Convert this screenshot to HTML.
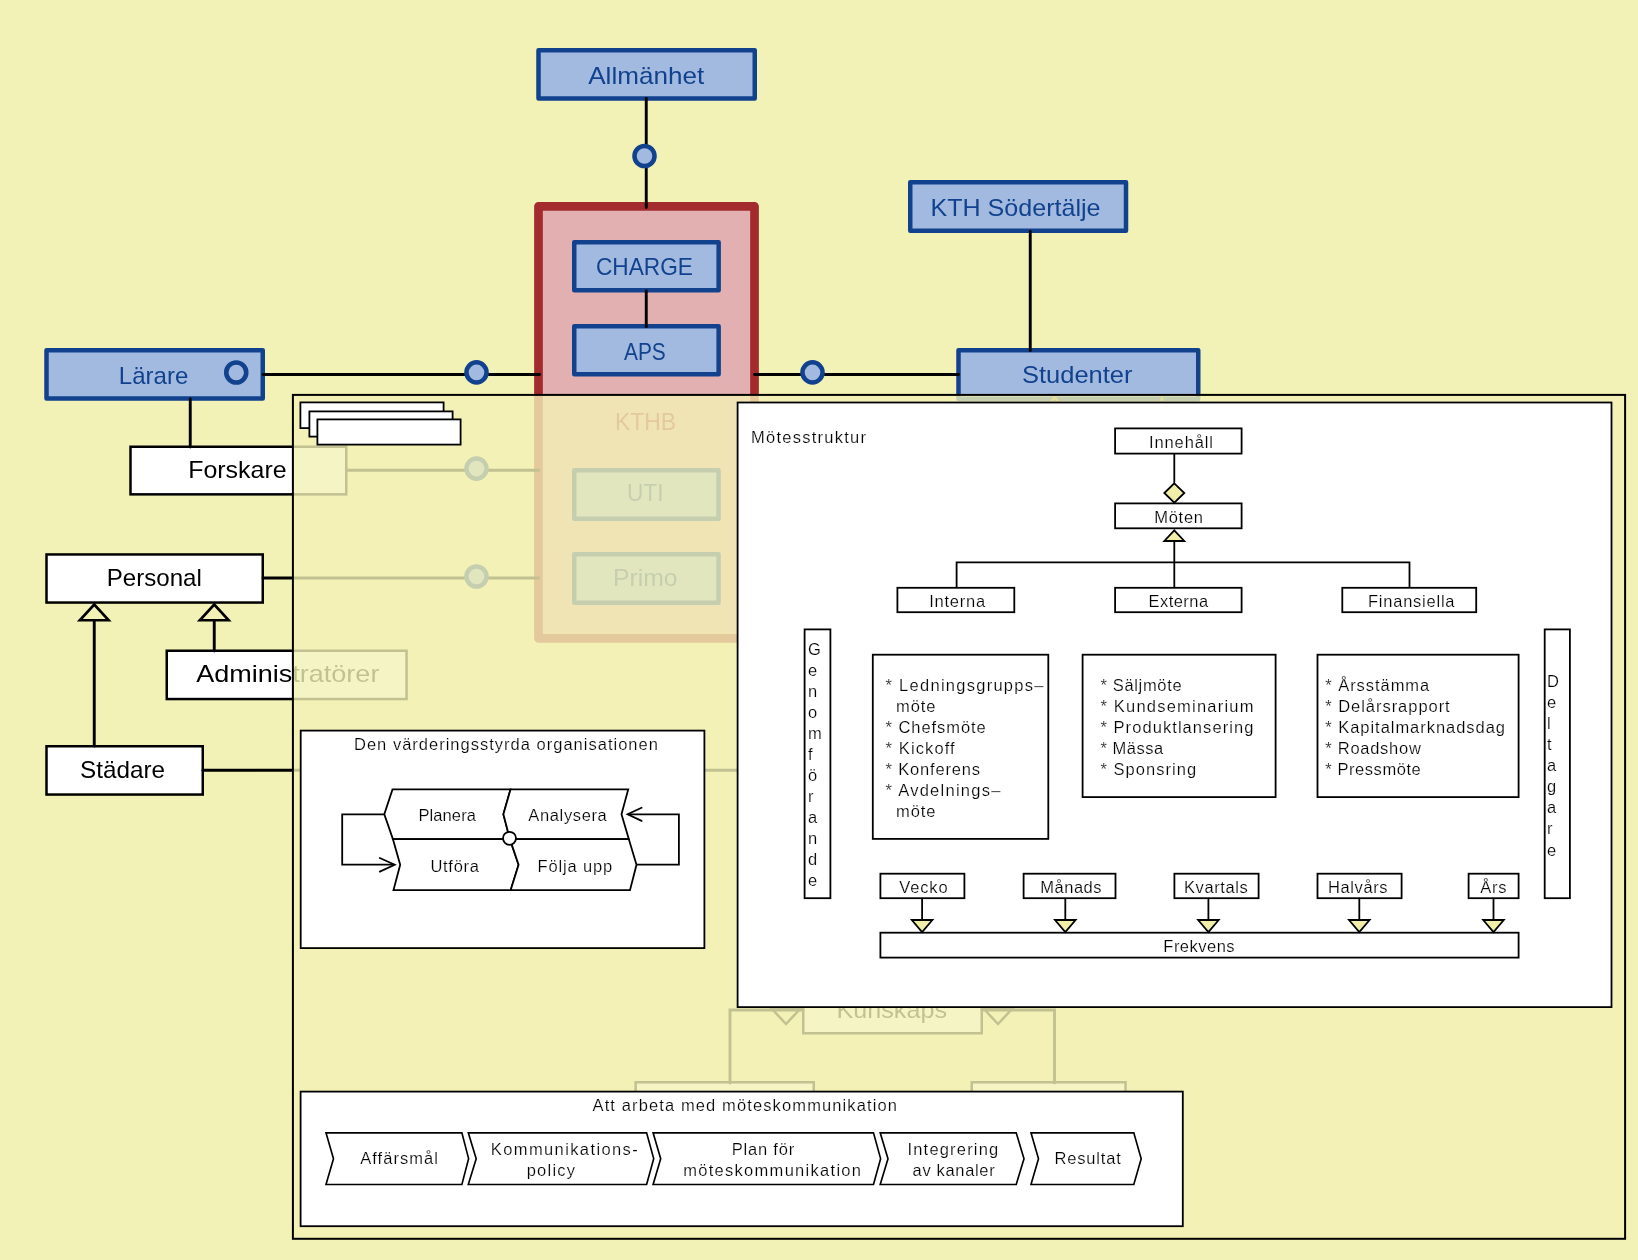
<!DOCTYPE html>
<html><head><meta charset="utf-8"><title>Diagram</title>
<style>
html,body{margin:0;padding:0;background:#f2f1b6;}
body{width:1638px;height:1260px;overflow:hidden;}
svg{display:block;font-family:"Liberation Sans",sans-serif;will-change:transform;}
</style></head><body>
<svg width="1638" height="1260" viewBox="0 0 1638 1260">
<rect x="0" y="0" width="1638" height="1260" fill="#f2f1b6"/>

<g id="base">
<rect x="538.5" y="206.3" width="216" height="432.1" fill="#e3b0b1" stroke="#a32a2d" stroke-width="8.7" stroke-linejoin="round"/>
<rect x="635.65" y="1082.25" width="178.10" height="56.50" fill="#fff" stroke="#000" stroke-width="2.5"/>
<rect x="971.75" y="1082.25" width="153.80" height="56.50" fill="#fff" stroke="#000" stroke-width="2.5"/>
<rect x="803.25" y="986.25" width="178.50" height="47.00" fill="#fff" stroke="#000" stroke-width="2.5"/>
<text x="836.4" y="1018.0" font-size="24" fill="#000" textLength="110.6" lengthAdjust="spacingAndGlyphs" >Kunskaps</text>
<path d="M803.00,1010.00 L730.00,1010.00 L730.00,1083.00" fill="none" stroke="#000" stroke-width="2.9" stroke-linecap="round"/>
<path d="M982.00,1010.00 L1054.50,1010.00 L1054.50,1083.00" fill="none" stroke="#000" stroke-width="2.9" stroke-linecap="round"/>
<polygon points="772.00,1009.00 786.00,1024.00 800.00,1009.00" fill="none" stroke="#000" stroke-width="2.5" stroke-linejoin="miter" />
<polygon points="984.00,1009.00 998.00,1024.00 1012.00,1009.00" fill="none" stroke="#000" stroke-width="2.5" stroke-linejoin="miter" />
<rect x="538.50" y="50.25" width="216.25" height="48.25" fill="#a2bae0" stroke="#12428e" stroke-width="4.5" stroke-linejoin="round"/>
<text x="588.2" y="84.2" font-size="24" fill="#12428e" textLength="116.0" lengthAdjust="spacingAndGlyphs" >Allmänhet</text>
<rect x="574.25" y="242.25" width="144.40" height="48.10" fill="#a2bae0" stroke="#12428e" stroke-width="4.5" stroke-linejoin="round"/>
<text x="596.0" y="275.0" font-size="24" fill="#12428e" textLength="97.0" lengthAdjust="spacingAndGlyphs" >CHARGE</text>
<rect x="574.25" y="326.25" width="144.40" height="48.10" fill="#a2bae0" stroke="#12428e" stroke-width="4.5" stroke-linejoin="round"/>
<text x="624.0" y="360.0" font-size="24" fill="#12428e" textLength="41.8" lengthAdjust="spacingAndGlyphs" >APS</text>
<text x="614.9" y="430.0" font-size="24" fill="#a32a2d" textLength="61.2" lengthAdjust="spacingAndGlyphs" >KTHB</text>
<rect x="574.25" y="470.25" width="144.30" height="48.50" fill="#a2bae0" stroke="#12428e" stroke-width="4.5" stroke-linejoin="round"/>
<text x="627.0" y="501.0" font-size="24" fill="#12428e" textLength="36.5" lengthAdjust="spacingAndGlyphs" >UTI</text>
<rect x="574.25" y="554.25" width="144.30" height="48.50" fill="#a2bae0" stroke="#12428e" stroke-width="4.5" stroke-linejoin="round"/>
<text x="613.0" y="585.7" font-size="24" fill="#12428e" textLength="64.5" lengthAdjust="spacingAndGlyphs" >Primo</text>
<rect x="910.25" y="182.25" width="215.75" height="48.50" fill="#a2bae0" stroke="#12428e" stroke-width="4.5" stroke-linejoin="round"/>
<text x="930.5" y="215.5" font-size="24" fill="#12428e" textLength="170.0" lengthAdjust="spacingAndGlyphs" >KTH Södertälje</text>
<rect x="958.50" y="350.25" width="239.75" height="48.70" fill="#a2bae0" stroke="#12428e" stroke-width="4.5" stroke-linejoin="round"/>
<text x="1022.0" y="383.0" font-size="24" fill="#12428e" textLength="110.5" lengthAdjust="spacingAndGlyphs" >Studenter</text>
<rect x="46.50" y="350.25" width="216.25" height="48.25" fill="#a2bae0" stroke="#12428e" stroke-width="4.5" stroke-linejoin="round"/>
<text x="118.8" y="384.2" font-size="24" fill="#12428e" textLength="69.5" lengthAdjust="spacingAndGlyphs" >Lärare</text>
<circle cx="236.25" cy="372.5" r="10" fill="none" stroke="#12428e" stroke-width="4.6"/>
<rect x="130.50" y="446.75" width="215.75" height="47.60" fill="#fff" stroke="#000" stroke-width="2.5"/>
<text x="188.2" y="477.7" font-size="24" fill="#000" textLength="98.4" lengthAdjust="spacingAndGlyphs" >Forskare</text>
<rect x="46.50" y="554.45" width="216.25" height="48.10" fill="#fff" stroke="#000" stroke-width="2.5"/>
<text x="106.8" y="585.7" font-size="24" fill="#000" textLength="95.0" lengthAdjust="spacingAndGlyphs" >Personal</text>
<rect x="166.75" y="650.75" width="239.80" height="48.30" fill="#fff" stroke="#000" stroke-width="2.5"/>
<text x="196.2" y="682.3" font-size="24" fill="#000" textLength="183.2" lengthAdjust="spacingAndGlyphs" >Administratörer</text>
<rect x="46.50" y="746.25" width="156.25" height="48.30" fill="#fff" stroke="#000" stroke-width="2.5"/>
<text x="80.0" y="777.5" font-size="24" fill="#000" textLength="85.0" lengthAdjust="spacingAndGlyphs" >Städare</text>
<path d="M646.25,98.50 L646.25,207.50" fill="none" stroke="#000" stroke-width="2.9" stroke-linecap="round"/>
<path d="M646.25,291.00 L646.25,326.50" fill="none" stroke="#000" stroke-width="2.9" stroke-linecap="round"/>
<path d="M263.00,374.50 L539.50,374.50" fill="none" stroke="#000" stroke-width="2.9" stroke-linecap="round"/>
<path d="M754.50,374.50 L958.50,374.50" fill="none" stroke="#000" stroke-width="2.9" stroke-linecap="round"/>
<path d="M1030.25,231.50 L1030.25,350.50" fill="none" stroke="#000" stroke-width="2.9" stroke-linecap="round"/>
<path d="M190.25,399.00 L190.25,447.00" fill="none" stroke="#000" stroke-width="2.9" stroke-linecap="round"/>
<path d="M346.50,470.30 L538.50,470.30" fill="none" stroke="#000" stroke-width="2.9" stroke-linecap="round"/>
<path d="M263.00,578.00 L538.50,578.00" fill="none" stroke="#000" stroke-width="2.9" stroke-linecap="round"/>
<path d="M203.00,770.30 L745.00,770.30" fill="none" stroke="#000" stroke-width="2.9" stroke-linecap="round"/>
<path d="M94.25,620.00 L94.25,746.00" fill="none" stroke="#000" stroke-width="2.9" stroke-linecap="round"/>
<path d="M214.25,620.00 L214.25,651.00" fill="none" stroke="#000" stroke-width="2.9" stroke-linecap="round"/>
<circle cx="644.5" cy="156" r="10.05" fill="#a2bae0" stroke="#12428e" stroke-width="4.5"/>
<polygon points="1054.50,397.50 1040.00,414.00 1069.00,414.00" fill="none" stroke="#b08a30" stroke-width="2.5" stroke-linejoin="miter" />
<path d="M1162.00,398.50 L1162.00,412.00" fill="none" stroke="#b08a30" stroke-width="2.9" stroke-linecap="round"/>
<circle cx="476.5" cy="372.4" r="10.05" fill="#a2bae0" stroke="#12428e" stroke-width="4.5"/>
<circle cx="812.5" cy="372.4" r="10.05" fill="#a2bae0" stroke="#12428e" stroke-width="4.5"/>
<circle cx="476.5" cy="468.6" r="10.05" fill="#a2bae0" stroke="#12428e" stroke-width="4.5"/>
<circle cx="476.5" cy="576.5" r="10.05" fill="#a2bae0" stroke="#12428e" stroke-width="4.5"/>
<polygon points="94.25,604.50 79.80,620.30 108.70,620.30" fill="#f2f1b6" stroke="#000" stroke-width="2.6" stroke-linejoin="miter" />
<polygon points="214.25,604.50 199.80,620.30 228.70,620.30" fill="#f2f1b6" stroke="#000" stroke-width="2.6" stroke-linejoin="miter" />
</g>
<rect x="292.9" y="394.9" width="1332.2" height="843.9" fill="#f2f1b6" fill-opacity="0.8" stroke="#000" stroke-width="2"/>
<g id="fg">
<rect x="300.40" y="402.40" width="143.20" height="25.70" fill="#fff" stroke="#000" stroke-width="1.8"/>
<rect x="309.40" y="411.40" width="143.20" height="25.20" fill="#fff" stroke="#000" stroke-width="1.8"/>
<rect x="317.40" y="419.40" width="143.20" height="25.20" fill="#fff" stroke="#000" stroke-width="1.8"/>
<rect x="300.70" y="730.60" width="403.70" height="217.50" fill="#fff" stroke="#000" stroke-width="1.8"/>
<text x="354.0" y="750.2" font-size="16.5" fill="#000" textLength="303.9" lengthAdjust="spacing" stroke="#fff" stroke-width="0.2">Den värderingsstyrda organisationen</text>
<path d="M384.30,814.30 L342.20,814.30 L342.20,864.70 L394.00,864.70" fill="none" stroke="#000" stroke-width="1.8" stroke-linejoin="miter"/>
<path d="M379.80,858.00 L394.70,864.70 L379.80,871.60" fill="none" stroke="#000" stroke-width="1.8" stroke-linecap="round" stroke-linejoin="miter"/>
<path d="M636.50,864.70 L678.90,864.70 L678.90,814.30 L628.30,814.30" fill="none" stroke="#000" stroke-width="1.8" stroke-linejoin="miter"/>
<path d="M641.60,807.80 L627.60,814.30 L641.60,820.90" fill="none" stroke="#000" stroke-width="1.8" stroke-linecap="round" stroke-linejoin="miter"/>
<polygon points="392.50,789.40 510.50,789.40 503.40,814.30 509.90,839.10 392.90,839.10 384.30,814.30" fill="#fff" stroke="#000" stroke-width="1.8" stroke-linejoin="miter" />
<polygon points="510.50,789.40 628.20,789.40 621.50,814.30 628.80,839.10 509.90,839.10 503.40,814.30" fill="#fff" stroke="#000" stroke-width="1.8" stroke-linejoin="miter" />
<polygon points="392.90,839.10 509.90,839.10 518.60,864.70 510.70,890.10 393.50,890.10 400.20,864.70" fill="#fff" stroke="#000" stroke-width="1.8" stroke-linejoin="miter" />
<polygon points="509.90,839.10 628.80,839.10 636.50,864.70 630.00,890.10 510.70,890.10 518.60,864.70" fill="#fff" stroke="#000" stroke-width="1.8" stroke-linejoin="miter" />
<circle cx="509.5" cy="838.3" r="6.5" fill="#fff" stroke="#000" stroke-width="1.8"/>
<text x="418.5" y="820.9" font-size="16.5" fill="#000" textLength="57.4" lengthAdjust="spacing" stroke="#fff" stroke-width="0.2">Planera</text>
<text x="528.3" y="820.9" font-size="16.5" fill="#000" textLength="78.5" lengthAdjust="spacing" stroke="#fff" stroke-width="0.2">Analysera</text>
<text x="430.4" y="871.7" font-size="16.5" fill="#000" textLength="48.6" lengthAdjust="spacing" stroke="#fff" stroke-width="0.2">Utföra</text>
<text x="537.6" y="871.7" font-size="16.5" fill="#000" textLength="74.7" lengthAdjust="spacing" stroke="#fff" stroke-width="0.2">Följa upp</text>
<rect x="300.60" y="1091.60" width="882.20" height="134.60" fill="#fff" stroke="#000" stroke-width="1.8"/>
<text x="592.5" y="1111.0" font-size="16.5" fill="#000" textLength="304.5" lengthAdjust="spacing" stroke="#fff" stroke-width="0.2">Att arbeta med möteskommunikation</text>
<polygon points="326.00,1132.80 461.90,1132.80 468.60,1158.65 461.90,1184.50 326.00,1184.50 333.50,1158.65" fill="#fff" stroke="#000" stroke-width="1.65" stroke-linejoin="miter" />
<polygon points="468.30,1132.80 646.60,1132.80 653.70,1158.65 646.60,1184.50 468.30,1184.50 476.20,1158.65" fill="#fff" stroke="#000" stroke-width="1.65" stroke-linejoin="miter" />
<polygon points="653.10,1132.80 873.50,1132.80 880.60,1158.65 873.50,1184.50 653.10,1184.50 660.70,1158.65" fill="#fff" stroke="#000" stroke-width="1.65" stroke-linejoin="miter" />
<polygon points="880.20,1132.80 1016.20,1132.80 1024.00,1158.65 1016.20,1184.50 880.20,1184.50 888.00,1158.65" fill="#fff" stroke="#000" stroke-width="1.65" stroke-linejoin="miter" />
<polygon points="1031.00,1132.80 1133.80,1132.80 1141.20,1158.65 1133.80,1184.50 1031.00,1184.50 1038.50,1158.65" fill="#fff" stroke="#000" stroke-width="1.65" stroke-linejoin="miter" />
<text x="360.2" y="1163.7" font-size="16.5" fill="#000" textLength="77.8" lengthAdjust="spacing" stroke="#fff" stroke-width="0.2">Affärsmål</text>
<text x="490.8" y="1155.0" font-size="16.5" fill="#000" textLength="146.9" lengthAdjust="spacing" stroke="#fff" stroke-width="0.2">Kommunikations-</text>
<text x="526.7" y="1175.5" font-size="16.5" fill="#000" textLength="48.3" lengthAdjust="spacing" stroke="#fff" stroke-width="0.2">policy</text>
<text x="731.7" y="1154.6" font-size="16.5" fill="#000" textLength="62.5" lengthAdjust="spacing" stroke="#fff" stroke-width="0.2">Plan för</text>
<text x="683.2" y="1175.7" font-size="16.5" fill="#000" textLength="177.8" lengthAdjust="spacing" stroke="#fff" stroke-width="0.2">möteskommunikation</text>
<text x="907.5" y="1154.6" font-size="16.5" fill="#000" textLength="90.7" lengthAdjust="spacing" stroke="#fff" stroke-width="0.2">Integrering</text>
<text x="912.6" y="1175.7" font-size="16.5" fill="#000" textLength="82.1" lengthAdjust="spacing" stroke="#fff" stroke-width="0.2">av kanaler</text>
<text x="1054.5" y="1164.0" font-size="16.5" fill="#000" textLength="66.4" lengthAdjust="spacing" stroke="#fff" stroke-width="0.2">Resultat</text>
<rect x="737.60" y="402.50" width="873.90" height="604.60" fill="#fff" stroke="#000" stroke-width="1.8"/>
<text x="751.0" y="443.0" font-size="16.5" fill="#000" textLength="115.0" lengthAdjust="spacing" stroke="#fff" stroke-width="0.2">Mötesstruktur</text>
<rect x="1115.10" y="428.40" width="126.50" height="25.20" fill="#fff" stroke="#000" stroke-width="1.8"/>
<text x="1149.0" y="448.3" font-size="16.5" fill="#000" textLength="64.0" lengthAdjust="spacing" stroke="#fff" stroke-width="0.2">Innehåll</text>
<path d="M1174.30,454.00 L1174.30,482.00" fill="none" stroke="#000" stroke-width="1.8" stroke-linecap="round"/>
<polygon points="1174.30,483.30 1184.30,493.00 1174.30,502.70 1164.30,493.00" fill="#f0eea8" stroke="#000" stroke-width="1.8" stroke-linejoin="miter" />
<rect x="1115.10" y="503.40" width="126.50" height="24.90" fill="#fff" stroke="#000" stroke-width="1.8"/>
<text x="1154.2" y="522.7" font-size="16.5" fill="#000" textLength="48.8" lengthAdjust="spacing" stroke="#fff" stroke-width="0.2">Möten</text>
<polygon points="1174.30,530.30 1184.30,541.00 1164.30,541.00" fill="#f0eea8" stroke="#000" stroke-width="1.8" stroke-linejoin="miter" />
<path d="M1174.30,541.60 L1174.30,588.00" fill="none" stroke="#000" stroke-width="1.8" stroke-linecap="round"/>
<path d="M956.60,588.00 L956.60,562.40 L1409.50,562.40 L1409.50,588.00" fill="none" stroke="#000" stroke-width="1.8" stroke-linejoin="miter"/>
<rect x="897.40" y="587.80" width="116.90" height="24.40" fill="#fff" stroke="#000" stroke-width="1.8"/>
<text x="929.2" y="606.9" font-size="16.5" fill="#000" textLength="56.0" lengthAdjust="spacing" stroke="#fff" stroke-width="0.2">Interna</text>
<rect x="1115.10" y="587.80" width="126.50" height="24.40" fill="#fff" stroke="#000" stroke-width="1.8"/>
<text x="1148.4" y="606.9" font-size="16.5" fill="#000" textLength="59.8" lengthAdjust="spacing" stroke="#fff" stroke-width="0.2">Externa</text>
<rect x="1342.30" y="587.80" width="133.90" height="24.40" fill="#fff" stroke="#000" stroke-width="1.8"/>
<text x="1368.0" y="606.8" font-size="16.5" fill="#000" textLength="86.5" lengthAdjust="spacing" stroke="#fff" stroke-width="0.2">Finansiella</text>
<rect x="804.60" y="629.40" width="25.80" height="268.80" fill="#fff" stroke="#000" stroke-width="1.8"/>
<text x="808" y="654.6" font-size="16.5" stroke="#fff" stroke-width="0.2">G</text>
<text x="808" y="675.6" font-size="16.5" stroke="#fff" stroke-width="0.2">e</text>
<text x="808" y="696.7" font-size="16.5" stroke="#fff" stroke-width="0.2">n</text>
<text x="808" y="717.7" font-size="16.5" stroke="#fff" stroke-width="0.2">o</text>
<text x="808" y="738.7" font-size="16.5" stroke="#fff" stroke-width="0.2">m</text>
<text x="808" y="759.8" font-size="16.5" stroke="#fff" stroke-width="0.2">f</text>
<text x="808" y="780.8" font-size="16.5" stroke="#fff" stroke-width="0.2">ö</text>
<text x="808" y="801.8" font-size="16.5" stroke="#fff" stroke-width="0.2">r</text>
<text x="808" y="822.8" font-size="16.5" stroke="#fff" stroke-width="0.2">a</text>
<text x="808" y="843.9" font-size="16.5" stroke="#fff" stroke-width="0.2">n</text>
<text x="808" y="864.9" font-size="16.5" stroke="#fff" stroke-width="0.2">d</text>
<text x="808" y="885.9" font-size="16.5" stroke="#fff" stroke-width="0.2">e</text>
<rect x="1544.70" y="629.40" width="25.20" height="268.80" fill="#fff" stroke="#000" stroke-width="1.8"/>
<text x="1547" y="687.0" font-size="16.5" stroke="#fff" stroke-width="0.2">D</text>
<text x="1547" y="708.1" font-size="16.5" stroke="#fff" stroke-width="0.2">e</text>
<text x="1547" y="729.1" font-size="16.5" stroke="#fff" stroke-width="0.2">l</text>
<text x="1547" y="750.2" font-size="16.5" stroke="#fff" stroke-width="0.2">t</text>
<text x="1547" y="771.2" font-size="16.5" stroke="#fff" stroke-width="0.2">a</text>
<text x="1547" y="792.3" font-size="16.5" stroke="#fff" stroke-width="0.2">g</text>
<text x="1547" y="813.4" font-size="16.5" stroke="#fff" stroke-width="0.2">a</text>
<text x="1547" y="834.4" font-size="16.5" stroke="#fff" stroke-width="0.2">r</text>
<text x="1547" y="855.5" font-size="16.5" stroke="#fff" stroke-width="0.2">e</text>
<rect x="872.80" y="654.70" width="175.50" height="184.20" fill="#fff" stroke="#000" stroke-width="1.8"/>
<text x="885.6" y="691.0" font-size="16.5" fill="#000" textLength="157.8" lengthAdjust="spacing" stroke="#fff" stroke-width="0.2">* Ledningsgrupps–</text>
<text x="896.0" y="712.0" font-size="16.5" fill="#000" textLength="39.5" lengthAdjust="spacing" stroke="#fff" stroke-width="0.2">möte</text>
<text x="885.6" y="733.0" font-size="16.5" fill="#000" textLength="100.2" lengthAdjust="spacing" stroke="#fff" stroke-width="0.2">* Chefsmöte</text>
<text x="885.6" y="754.0" font-size="16.5" fill="#000" textLength="69.1" lengthAdjust="spacing" stroke="#fff" stroke-width="0.2">* Kickoff</text>
<text x="885.6" y="775.0" font-size="16.5" fill="#000" textLength="94.4" lengthAdjust="spacing" stroke="#fff" stroke-width="0.2">* Konferens</text>
<text x="885.6" y="796.0" font-size="16.5" fill="#000" textLength="114.8" lengthAdjust="spacing" stroke="#fff" stroke-width="0.2">* Avdelnings–</text>
<text x="896.0" y="817.0" font-size="16.5" fill="#000" textLength="39.5" lengthAdjust="spacing" stroke="#fff" stroke-width="0.2">möte</text>
<rect x="1082.60" y="654.70" width="193.00" height="142.40" fill="#fff" stroke="#000" stroke-width="1.8"/>
<text x="1100.4" y="691.0" font-size="16.5" fill="#000" textLength="81.2" lengthAdjust="spacing" stroke="#fff" stroke-width="0.2">* Säljmöte</text>
<text x="1100.4" y="712.0" font-size="16.5" fill="#000" textLength="153.0" lengthAdjust="spacing" stroke="#fff" stroke-width="0.2">* Kundseminarium</text>
<text x="1100.4" y="733.0" font-size="16.5" fill="#000" textLength="153.0" lengthAdjust="spacing" stroke="#fff" stroke-width="0.2">* Produktlansering</text>
<text x="1100.4" y="754.0" font-size="16.5" fill="#000" textLength="62.9" lengthAdjust="spacing" stroke="#fff" stroke-width="0.2">* Mässa</text>
<text x="1100.4" y="775.0" font-size="16.5" fill="#000" textLength="95.8" lengthAdjust="spacing" stroke="#fff" stroke-width="0.2">* Sponsring</text>
<rect x="1317.50" y="654.70" width="201.10" height="142.40" fill="#fff" stroke="#000" stroke-width="1.8"/>
<text x="1325.3" y="691.0" font-size="16.5" fill="#000" textLength="103.9" lengthAdjust="spacing" stroke="#fff" stroke-width="0.2">* Årsstämma</text>
<text x="1325.3" y="712.0" font-size="16.5" fill="#000" textLength="124.4" lengthAdjust="spacing" stroke="#fff" stroke-width="0.2">* Delårsrapport</text>
<text x="1325.3" y="733.0" font-size="16.5" fill="#000" textLength="179.7" lengthAdjust="spacing" stroke="#fff" stroke-width="0.2">* Kapitalmarknadsdag</text>
<text x="1325.3" y="754.0" font-size="16.5" fill="#000" textLength="95.5" lengthAdjust="spacing" stroke="#fff" stroke-width="0.2">* Roadshow</text>
<text x="1325.3" y="775.0" font-size="16.5" fill="#000" textLength="95.5" lengthAdjust="spacing" stroke="#fff" stroke-width="0.2">* Pressmöte</text>
<rect x="880.40" y="932.70" width="638.20" height="24.90" fill="#fff" stroke="#000" stroke-width="1.8"/>
<text x="1163.3" y="952.2" font-size="16.5" fill="#000" textLength="71.3" lengthAdjust="spacing" stroke="#fff" stroke-width="0.2">Frekvens</text>
<rect x="880.40" y="873.70" width="84.00" height="24.50" fill="#fff" stroke="#000" stroke-width="1.8"/>
<text x="899.3" y="893.4" font-size="16.5" fill="#000" textLength="48.3" lengthAdjust="spacing" stroke="#fff" stroke-width="0.2">Vecko</text>
<path d="M922.10,898.60 L922.10,919.40" fill="none" stroke="#000" stroke-width="1.8" stroke-linecap="round"/>
<polygon points="911.80,920.00 932.40,920.00 922.10,932.20" fill="#f0eea8" stroke="#000" stroke-width="1.8" stroke-linejoin="miter" />
<rect x="1023.60" y="873.70" width="91.90" height="24.50" fill="#fff" stroke="#000" stroke-width="1.8"/>
<text x="1040.3" y="893.4" font-size="16.5" fill="#000" textLength="61.2" lengthAdjust="spacing" stroke="#fff" stroke-width="0.2">Månads</text>
<path d="M1065.30,898.60 L1065.30,919.40" fill="none" stroke="#000" stroke-width="1.8" stroke-linecap="round"/>
<polygon points="1055.00,920.00 1075.60,920.00 1065.30,932.20" fill="#f0eea8" stroke="#000" stroke-width="1.8" stroke-linejoin="miter" />
<rect x="1174.40" y="873.70" width="84.20" height="24.50" fill="#fff" stroke="#000" stroke-width="1.8"/>
<text x="1184.0" y="893.4" font-size="16.5" fill="#000" textLength="63.8" lengthAdjust="spacing" stroke="#fff" stroke-width="0.2">Kvartals</text>
<path d="M1208.40,898.60 L1208.40,919.40" fill="none" stroke="#000" stroke-width="1.8" stroke-linecap="round"/>
<polygon points="1198.10,920.00 1218.70,920.00 1208.40,932.20" fill="#f0eea8" stroke="#000" stroke-width="1.8" stroke-linejoin="miter" />
<rect x="1317.50" y="873.70" width="84.10" height="24.50" fill="#fff" stroke="#000" stroke-width="1.8"/>
<text x="1328.0" y="893.4" font-size="16.5" fill="#000" textLength="59.6" lengthAdjust="spacing" stroke="#fff" stroke-width="0.2">Halvårs</text>
<path d="M1359.30,898.60 L1359.30,919.40" fill="none" stroke="#000" stroke-width="1.8" stroke-linecap="round"/>
<polygon points="1349.00,920.00 1369.60,920.00 1359.30,932.20" fill="#f0eea8" stroke="#000" stroke-width="1.8" stroke-linejoin="miter" />
<rect x="1468.60" y="873.70" width="50.00" height="24.50" fill="#fff" stroke="#000" stroke-width="1.8"/>
<text x="1480.3" y="893.4" font-size="16.5" fill="#000" textLength="26.1" lengthAdjust="spacing" stroke="#fff" stroke-width="0.2">Års</text>
<path d="M1493.50,898.60 L1493.50,919.40" fill="none" stroke="#000" stroke-width="1.8" stroke-linecap="round"/>
<polygon points="1483.20,920.00 1503.80,920.00 1493.50,932.20" fill="#f0eea8" stroke="#000" stroke-width="1.8" stroke-linejoin="miter" />
</g>
</svg></body></html>
